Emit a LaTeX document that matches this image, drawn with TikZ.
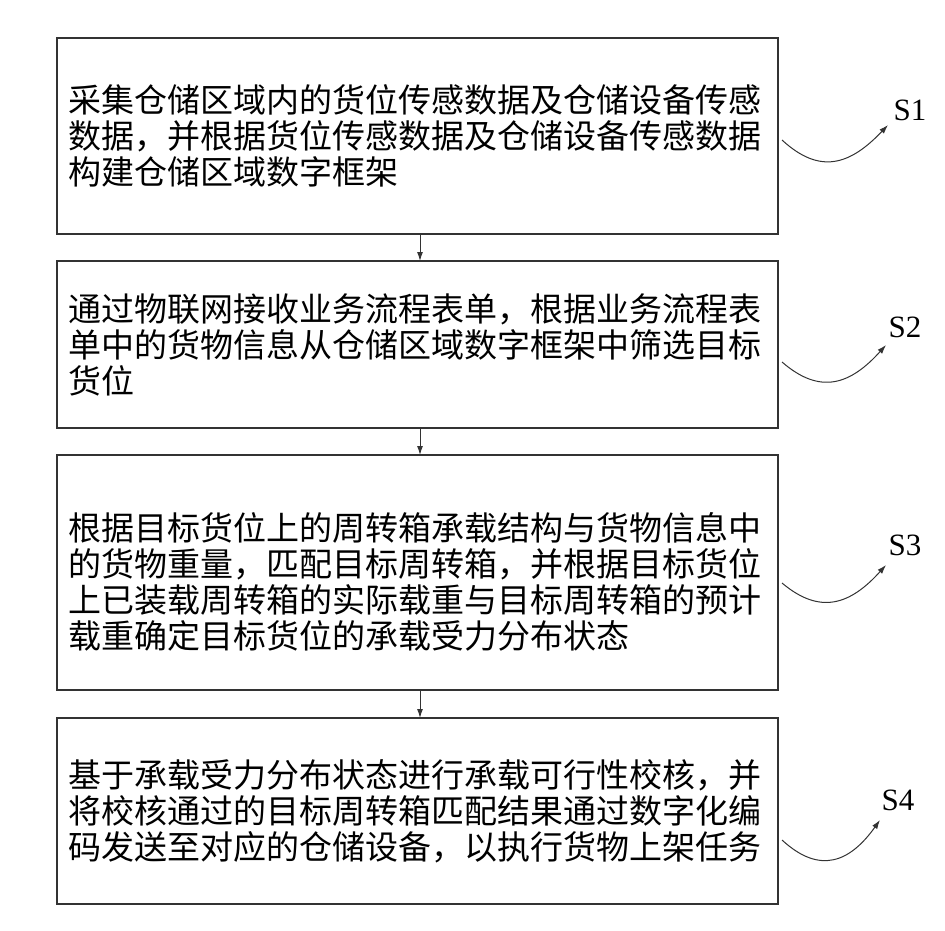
\documentclass[tikz,border=0pt]{standalone}
\usepackage{fontspec}
\usetikzlibrary{arrows.meta}
\setmainfont{Liberation Serif}
\newfontfamily\cjk{Noto Sans CJK SC}
\begin{document}
\begin{tikzpicture}[x=1pt,y=-1pt,
  box/.style={draw=black!80,line width=1.2pt},
  txt/.style={anchor=west,align=left,font=\cjk\fontsize{33}{36}\selectfont,inner sep=0pt},
  lab/.style={font=\fontsize{31}{31}\selectfont,inner sep=0pt},
  arr/.style={-{Latex[length=9pt,width=6pt]},line width=1pt,black!80},
  crv/.style={-{Latex[length=9pt,width=6pt]},line width=1pt,black!80}]
\useasboundingbox (0,0) rectangle (945,930);
\draw[box] (57,38) rectangle (778,234);
\draw[box] (57,261) rectangle (778,428);
\draw[box] (57,455) rectangle (778,690);
\draw[box] (57,718) rectangle (778,904);
\node[txt] (t1) at (68,136) {采集仓储区域内的货位传感数据及仓储设备传感\\数据，并根据货位传感数据及仓储设备传感数据\\构建仓储区域数字框架};
\node[txt] (t2) at (68,345) {通过物联网接收业务流程表单，根据业务流程表\\单中的货物信息从仓储区域数字框架中筛选目标\\货位};
\node[txt] (t3) at (68,582) {根据目标货位上的周转箱承载结构与货物信息中\\的货物重量，匹配目标周转箱，并根据目标货位\\上已装载周转箱的实际载重与目标周转箱的预计\\载重确定目标货位的承载受力分布状态};
\node[txt] (t4) at (68,811) {基于承载受力分布状态进行承载可行性校核，并\\将校核通过的目标周转箱匹配结果通过数字化编\\码发送至对应的仓储设备，以执行货物上架任务};
\coordinate (b1) at (420,234); \coordinate (b2t) at (420,261);
\coordinate (b2) at (420,428); \coordinate (b3t) at (420,455);
\coordinate (b3) at (420,690); \coordinate (b4t) at (420,718);
\draw[arr] (b1) -- (b2t);
\draw[arr] (b2) -- (b3t);
\draw[arr] (b3) -- (b4t);
\node[lab] (s1) at (910,110) {S1};
\node[lab] (s2) at (905,327) {S2};
\node[lab] (s3) at (905,545) {S3};
\node[lab] (s4) at (898,800) {S4};
\coordinate (c1) at (782,140); \coordinate (e1) at (888,125);
\coordinate (c2) at (782,362); \coordinate (e2) at (886,345);
\coordinate (c3) at (782,583); \coordinate (e3) at (886,565);
\coordinate (c4) at (782,840); \coordinate (e4) at (880,820);
\draw[crv] (c1) .. controls (820,175) and (850,165) .. (e1);
\draw[crv] (c2) .. controls (820,395) and (850,385) .. (e2);
\draw[crv] (c3) .. controls (820,615) and (850,605) .. (e3);
\draw[crv] (c4) .. controls (820,875) and (850,862) .. (e4);
\end{tikzpicture}
\end{document}
